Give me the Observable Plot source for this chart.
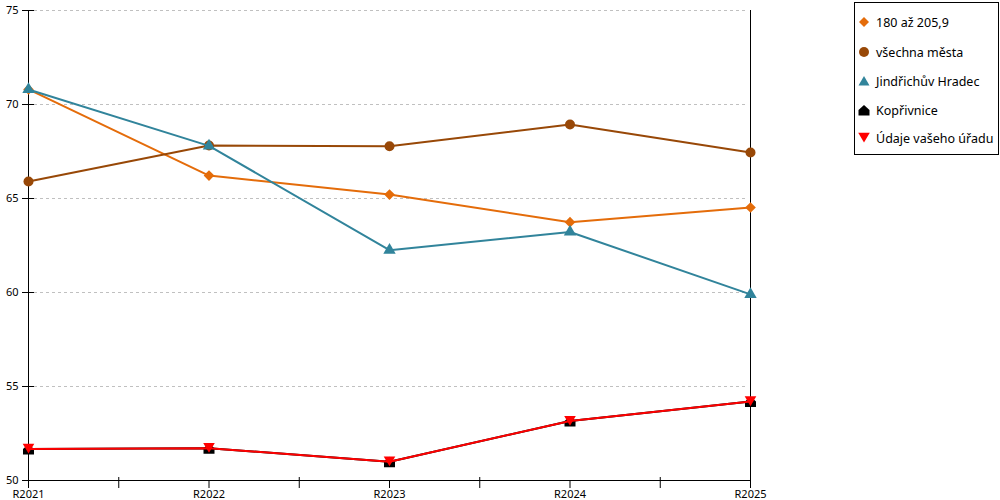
<!DOCTYPE html>
<html><head><meta charset="utf-8">
<script src="https://cdn.jsdelivr.net/npm/d3@7"></script>
<script src="https://cdn.jsdelivr.net/npm/@observablehq/plot@0.6"></script>
<style>
body{margin:0;background:#fff;font-family:"Noto Sans",sans-serif;}
#wrap{position:relative;width:1000px;height:500px;}
#legend{position:absolute;left:854px;top:2px;width:143px;height:151px;border:1px solid #000;background:#fff;}
.item{position:absolute;left:0;height:20px;display:flex;align-items:center;font-size:12.5px;color:#000;white-space:nowrap;}
.item svg{margin-left:3px;margin-right:6px;}
</style>
</head><body>
<div id="wrap"><div id="chart"></div><div id="legend"></div></div>
<script>
const years = ["R2021", "R2022", "R2023", "R2024", "R2025"];
const seriesNames = ["180 až 205,9", "všechna města", "Jindřichův Hradec", "Kopřivnice", "Údaje vašeho úřadu"];
const vals180 = [70.8, 66.22, 65.21, 63.74, 64.52];
const valsVsechna = [65.9, 67.82, 67.78, 68.94, 67.45];
const valsJH = [70.8, 67.8, 62.25, 63.22, 59.9];
const valsKoprivnice = [51.68, 51.72, 51.0, 53.16, 54.2];
const valsUrad = [51.68, 51.72, 51.0, 53.16, 54.2];
const colors = ["#E46C0A", "#984807", "#31849B", "#000000", "#FF0000"];
const yTicks = [50, 55, 60, 65, 70, 75];

const allVals = [vals180, valsVsechna, valsJH, valsKoprivnice, valsUrad];

// custom symbols
const house = {draw(ctx, size){ const s = Math.sqrt(size/Math.PI)/5;
  ctx.moveTo(0,-5*s); ctx.lineTo(5.5*s,0); ctx.lineTo(5.5*s,5.5*s); ctx.lineTo(-5.5*s,5.5*s); ctx.lineTo(-5.5*s,0); ctx.closePath(); }};
const downTri = {draw(ctx, size){ const s = Math.sqrt(size/Math.PI)/5;
  ctx.moveTo(-5.8*s,-5.2*s); ctx.lineTo(5.8*s,-5.2*s); ctx.lineTo(0,4.6*s); ctx.closePath(); }};
const symbols = ["diamond2", "circle", "triangle", house, downTri];
const radii = [4.8, 5, 4.6, 5, 5];

const data = [];
seriesNames.forEach((name, s) => allVals[s].forEach((v, i) => data.push({series: name, s, i, v})));

const marks = [
  Plot.ruleY(yTicks.filter(d => d > 50), {stroke: "#c0c0c0", strokeDasharray: "3,3", insetLeft: 6, insetRight: 3}),
  Plot.ruleX([0, years.length - 1], {stroke: "#000", strokeWidth: 1}),
  Plot.ruleY([50], {stroke: "#000", strokeWidth: 1}),
  Plot.axisX({ticks: d3.range(years.length), tickFormat: i => years[i], tickSize: 8, tickPadding: 2, fill: "#000", stroke: "#000", label: null}),
  Plot.axisX({ticks: d3.range(years.length - 1).map(i => i + 0.5), tickFormat: () => "", tickSize: 11, dy: -3, stroke: "#000", label: null}),
  Plot.axisY({ticks: yTicks, tickSize: 12, dx: 6, tickPadding: 4, tickFormat: d => String(d), fill: "#000", stroke: "#000", label: null})
];
seriesNames.forEach((name, s) => {
  const d = data.filter(e => e.s === s);
  marks.push(Plot.line(d, {x: "i", y: "v", stroke: colors[s], strokeWidth: 2}));
  marks.push(Plot.dot(d, {x: "i", y: "v", fill: colors[s], stroke: "none", r: radii[s], symbol: symbols[s]}));
});

const chart = Plot.plot({
  width: 1000, height: 500,
  marginLeft: 28, marginRight: 250, marginTop: 10, marginBottom: 20,
  style: {fontFamily: "Noto Sans", fontSize: "11px", color: "#000", background: "#fff", overflow: "visible"},
  x: {type: "linear", domain: [0, years.length - 1], axis: null, label: null},
  y: {domain: [50, 75], axis: null, label: null},
  marks
});
document.getElementById("chart").appendChild(chart);

// legend
const legend = document.getElementById("legend");
const legendY = [9, 39, 68, 97, 125];
const shapePaths = [
  "M0,-5L5,0L0,5L-5,0Z",
  null,
  "M0,-5L5.5,4.5L-5.5,4.5Z",
  "M0,-5L5.5,0L5.5,5.5L-5.5,5.5L-5.5,0Z",
  "M-5.8,-5.2L5.8,-5.2L0,4.6Z"
];
seriesNames.forEach((name, s) => {
  const div = document.createElement("div");
  div.className = "item";
  div.style.top = legendY[s] + "px";
  const ns = "http://www.w3.org/2000/svg";
  const svg = document.createElementNS(ns, "svg");
  svg.setAttribute("width", 12); svg.setAttribute("height", 14);
  svg.setAttribute("viewBox", "-6 -7 12 14");
  let el;
  if (shapePaths[s] === null) { el = document.createElementNS(ns, "circle"); el.setAttribute("r", 5); }
  else { el = document.createElementNS(ns, "path"); el.setAttribute("d", shapePaths[s]); }
  el.setAttribute("fill", colors[s]);
  svg.appendChild(el);
  div.appendChild(svg);
  const span = document.createElement("span");
  span.textContent = name;
  div.appendChild(span);
  legend.appendChild(div);
});
</script>
</body></html>
